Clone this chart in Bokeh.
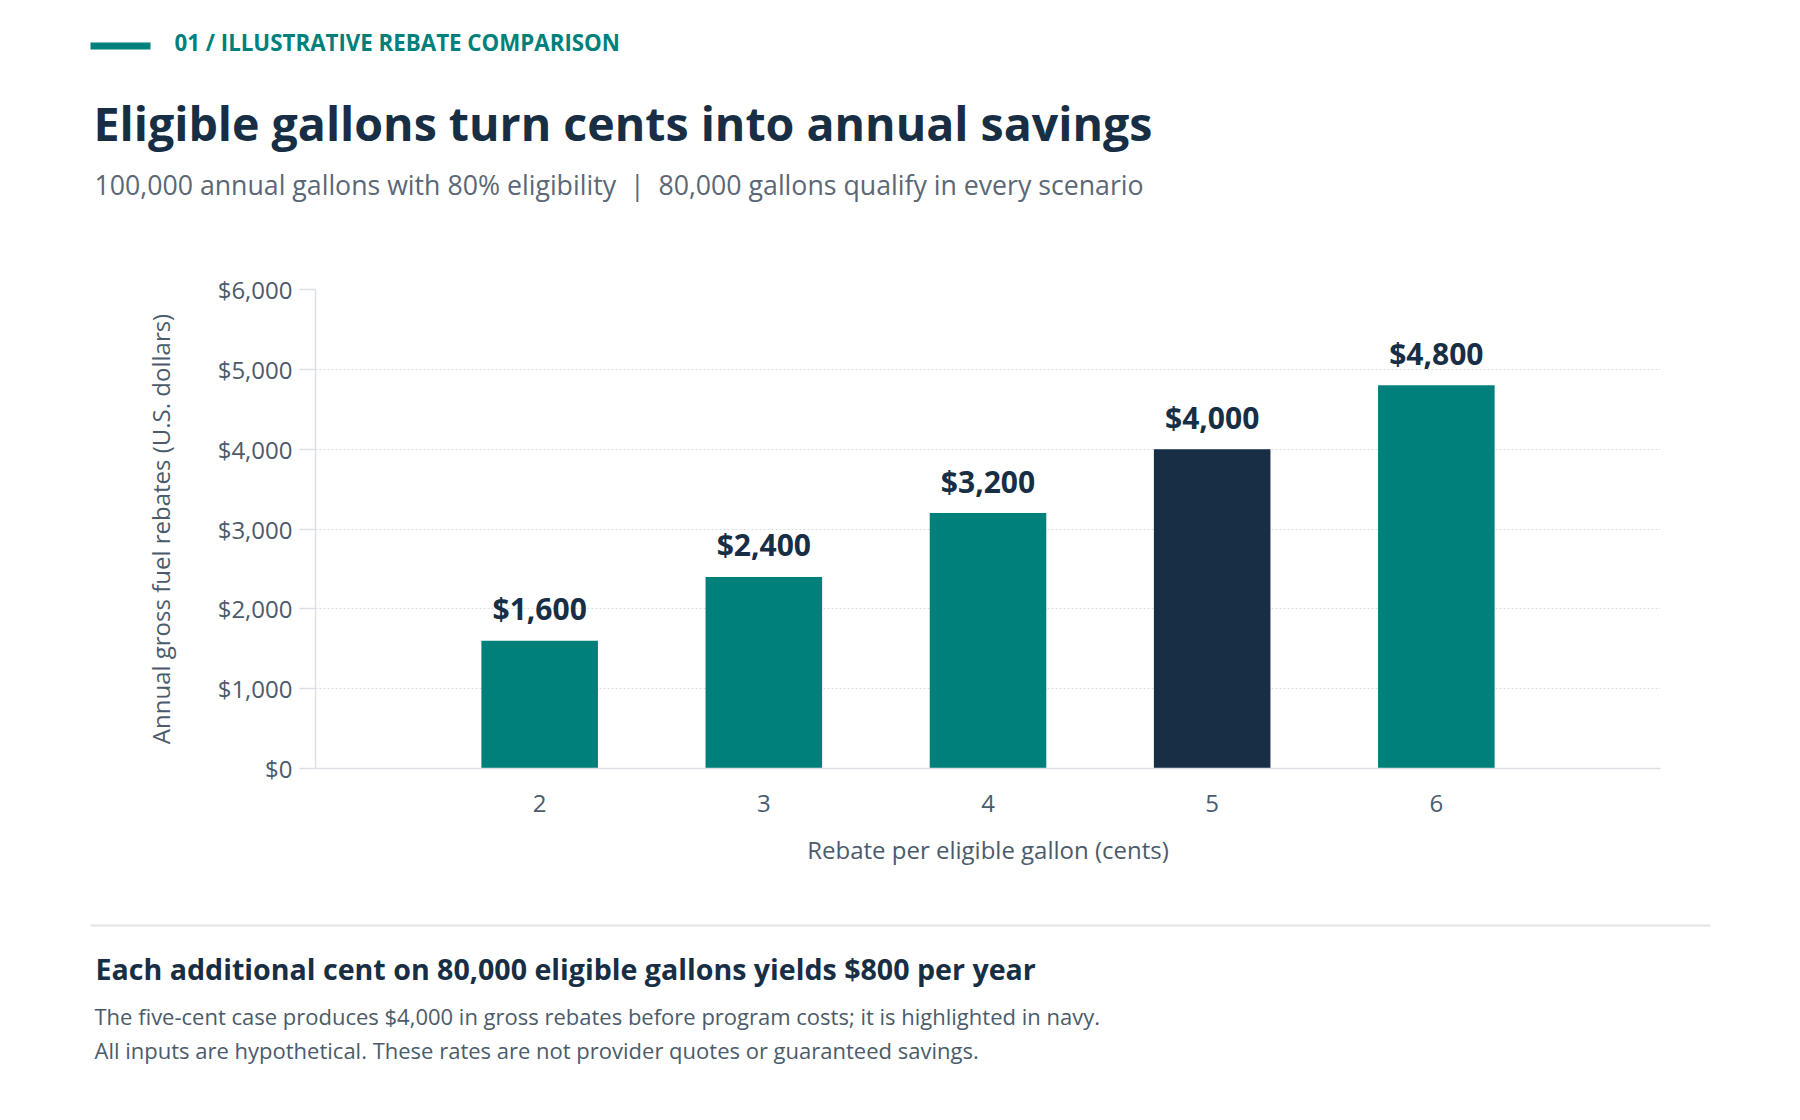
from bokeh.plotting import figure
from bokeh.layouts import column
from bokeh.models import Range1d, FixedTicker, NumeralTickFormatter, ColumnDataSource
from bokeh.core.properties import value
from bokeh.embed import file_html
from bokeh.resources import INLINE

# ---- data ----
cents = [2, 3, 4, 5, 6]
rebates = [1600, 2400, 3200, 4000, 4800]
highlight_cent = 5
value_labels = ["$1,600", "$2,400", "$3,200", "$4,000", "$4,800"]
y_ticks = [0, 1000, 2000, 3000, 4000, 5000, 6000]

eyebrow = "01 / ILLUSTRATIVE REBATE COMPARISON"
title = "Eligible gallons turn cents into annual savings"
subtitle = "100,000 annual gallons with 80% eligibility\u00a0 |\u00a0 80,000 gallons qualify in every scenario"
foot_head = "Each additional cent on 80,000 eligible gallons yields $800 per year"
foot_1 = "The five-cent case produces $4,000 in gross rebates before program costs; it is highlighted in navy."
foot_2 = "All inputs are hypothetical. These rates are not provider quotes or guaranteed savings."

TEAL = "#00807a"
NAVY = "#172e45"
GRAY = "#4b5b6b"
SUBGRAY = "#5b6776"
LIGHT = "#dde1e6"
FONT = "Open Sans"

W = 1784
HEAD_H = 230           # page y 0..230
CHART_H = 670          # page y 230..900
FOOT_H = 204           # page y 900..1104
FL, FR, FT, FB = 315, 1660, 289, 768   # plot frame in page px


def panel(h):
    f = figure(width=W, height=h, output_backend="svg", toolbar_location=None,
               x_range=Range1d(0, W), y_range=Range1d(h, 0),
               x_axis_type=None, y_axis_type=None, min_border=0,
               frame_align=False,
               background_fill_color="white", border_fill_color="white")
    f.outline_line_color = None
    f.grid.visible = False
    return f


def put_text(f, txt, x, y, size, color, bold=False):
    f.text(x=[x], y=[y], text=[txt], text_font=value(FONT), text_font_size=f"{size}px",
           text_font_style="bold" if bold else "normal", text_color=color,
           text_baseline="alphabetic", text_align="left")


# ---------- header ----------
head = panel(HEAD_H)
head.quad(left=[90], right=[150], top=[42], bottom=[49], fill_color=TEAL, line_color=None)
put_text(head, eyebrow, 174, 42, 22.3, TEAL, bold=True)
put_text(head, title, 93, 122, 46.5, NAVY, bold=True)
put_text(head, subtitle, 94, 184, 26.7, SUBGRAY)

# ---------- chart ----------
colors = [NAVY if c == highlight_cent else TEAL for c in cents]
src = ColumnDataSource(dict(x=cents, top=rebates, color=colors, label=value_labels))

p = figure(width=W, height=CHART_H, output_backend="svg", toolbar_location=None,
           x_range=Range1d(1, 7), y_range=Range1d(0, 6000),
           min_border_left=FL, min_border_right=W - FR,
           min_border_top=FT - HEAD_H, min_border_bottom=HEAD_H + CHART_H - FB,
           frame_align=False,
           background_fill_color="white", border_fill_color="white")
p.outline_line_color = None

p.vbar(x="x", top="top", bottom=0, width=0.52, fill_color="color",
       line_color=None, source=src)
p.text(x="x", y="top", text="label", source=src, text_align="center",
       text_baseline="alphabetic", y_offset=-32,
       text_font=value(FONT), text_font_style="bold",
       text_font_size="30px", text_color=NAVY)

p.xgrid.grid_line_color = None
p.ygrid.grid_line_color = "#d8dce1"
p.ygrid.grid_line_dash = "2 2"
p.ygrid.grid_line_width = 1

ya = p.yaxis[0]
ya.ticker = FixedTicker(ticks=y_ticks)
ya.formatter = NumeralTickFormatter(format="$0,0")
ya.axis_line_color = LIGHT
ya.axis_line_width = 1.5
ya.major_tick_line_color = LIGHT
ya.major_tick_line_width = 1.5
ya.major_tick_out = 16
ya.major_tick_in = 0
ya.minor_tick_line_color = None
ya.major_label_standoff = 7
ya.major_label_text_font = FONT
ya.major_label_text_font_size = "24px"
ya.major_label_text_color = GRAY
ya.axis_label = "Annual gross fuel rebates (U.S. dollars)"
ya.axis_label_text_font = FONT
ya.axis_label_text_font_size = "24px"
ya.axis_label_text_font_style = "normal"
ya.axis_label_text_color = GRAY
ya.axis_label_standoff = 38

xa = p.xaxis[0]
xa.ticker = FixedTicker(ticks=cents)
xa.axis_line_color = LIGHT
xa.axis_line_width = 1.5
xa.major_tick_line_color = None
xa.major_tick_out = 0
xa.major_tick_in = 0
xa.minor_tick_line_color = None
xa.major_label_standoff = 26
xa.major_label_text_font = FONT
xa.major_label_text_font_size = "24px"
xa.major_label_text_color = GRAY
xa.axis_label = "Rebate per eligible gallon (cents)"
xa.axis_label_text_font = FONT
xa.axis_label_text_font_size = "24px"
xa.axis_label_text_font_style = "normal"
xa.axis_label_text_color = GRAY
xa.axis_label_standoff = 18

# ---------- footer ----------
foot = panel(FOOT_H)
top0 = HEAD_H + CHART_H
foot.quad(left=[90], right=[1710], top=[924 - top0], bottom=[926 - top0],
          fill_color="#dfe3e8", line_color=None)
put_text(foot, foot_head, 95, 968 - top0, 28.6, NAVY, bold=True)
put_text(foot, foot_1, 94, 1015 - top0, 22, GRAY)
put_text(foot, foot_2, 94, 1049 - top0, 22, GRAY)

page = column(head, p, foot, spacing=0)
open("out.html", "w").write(file_html(page, INLINE))
